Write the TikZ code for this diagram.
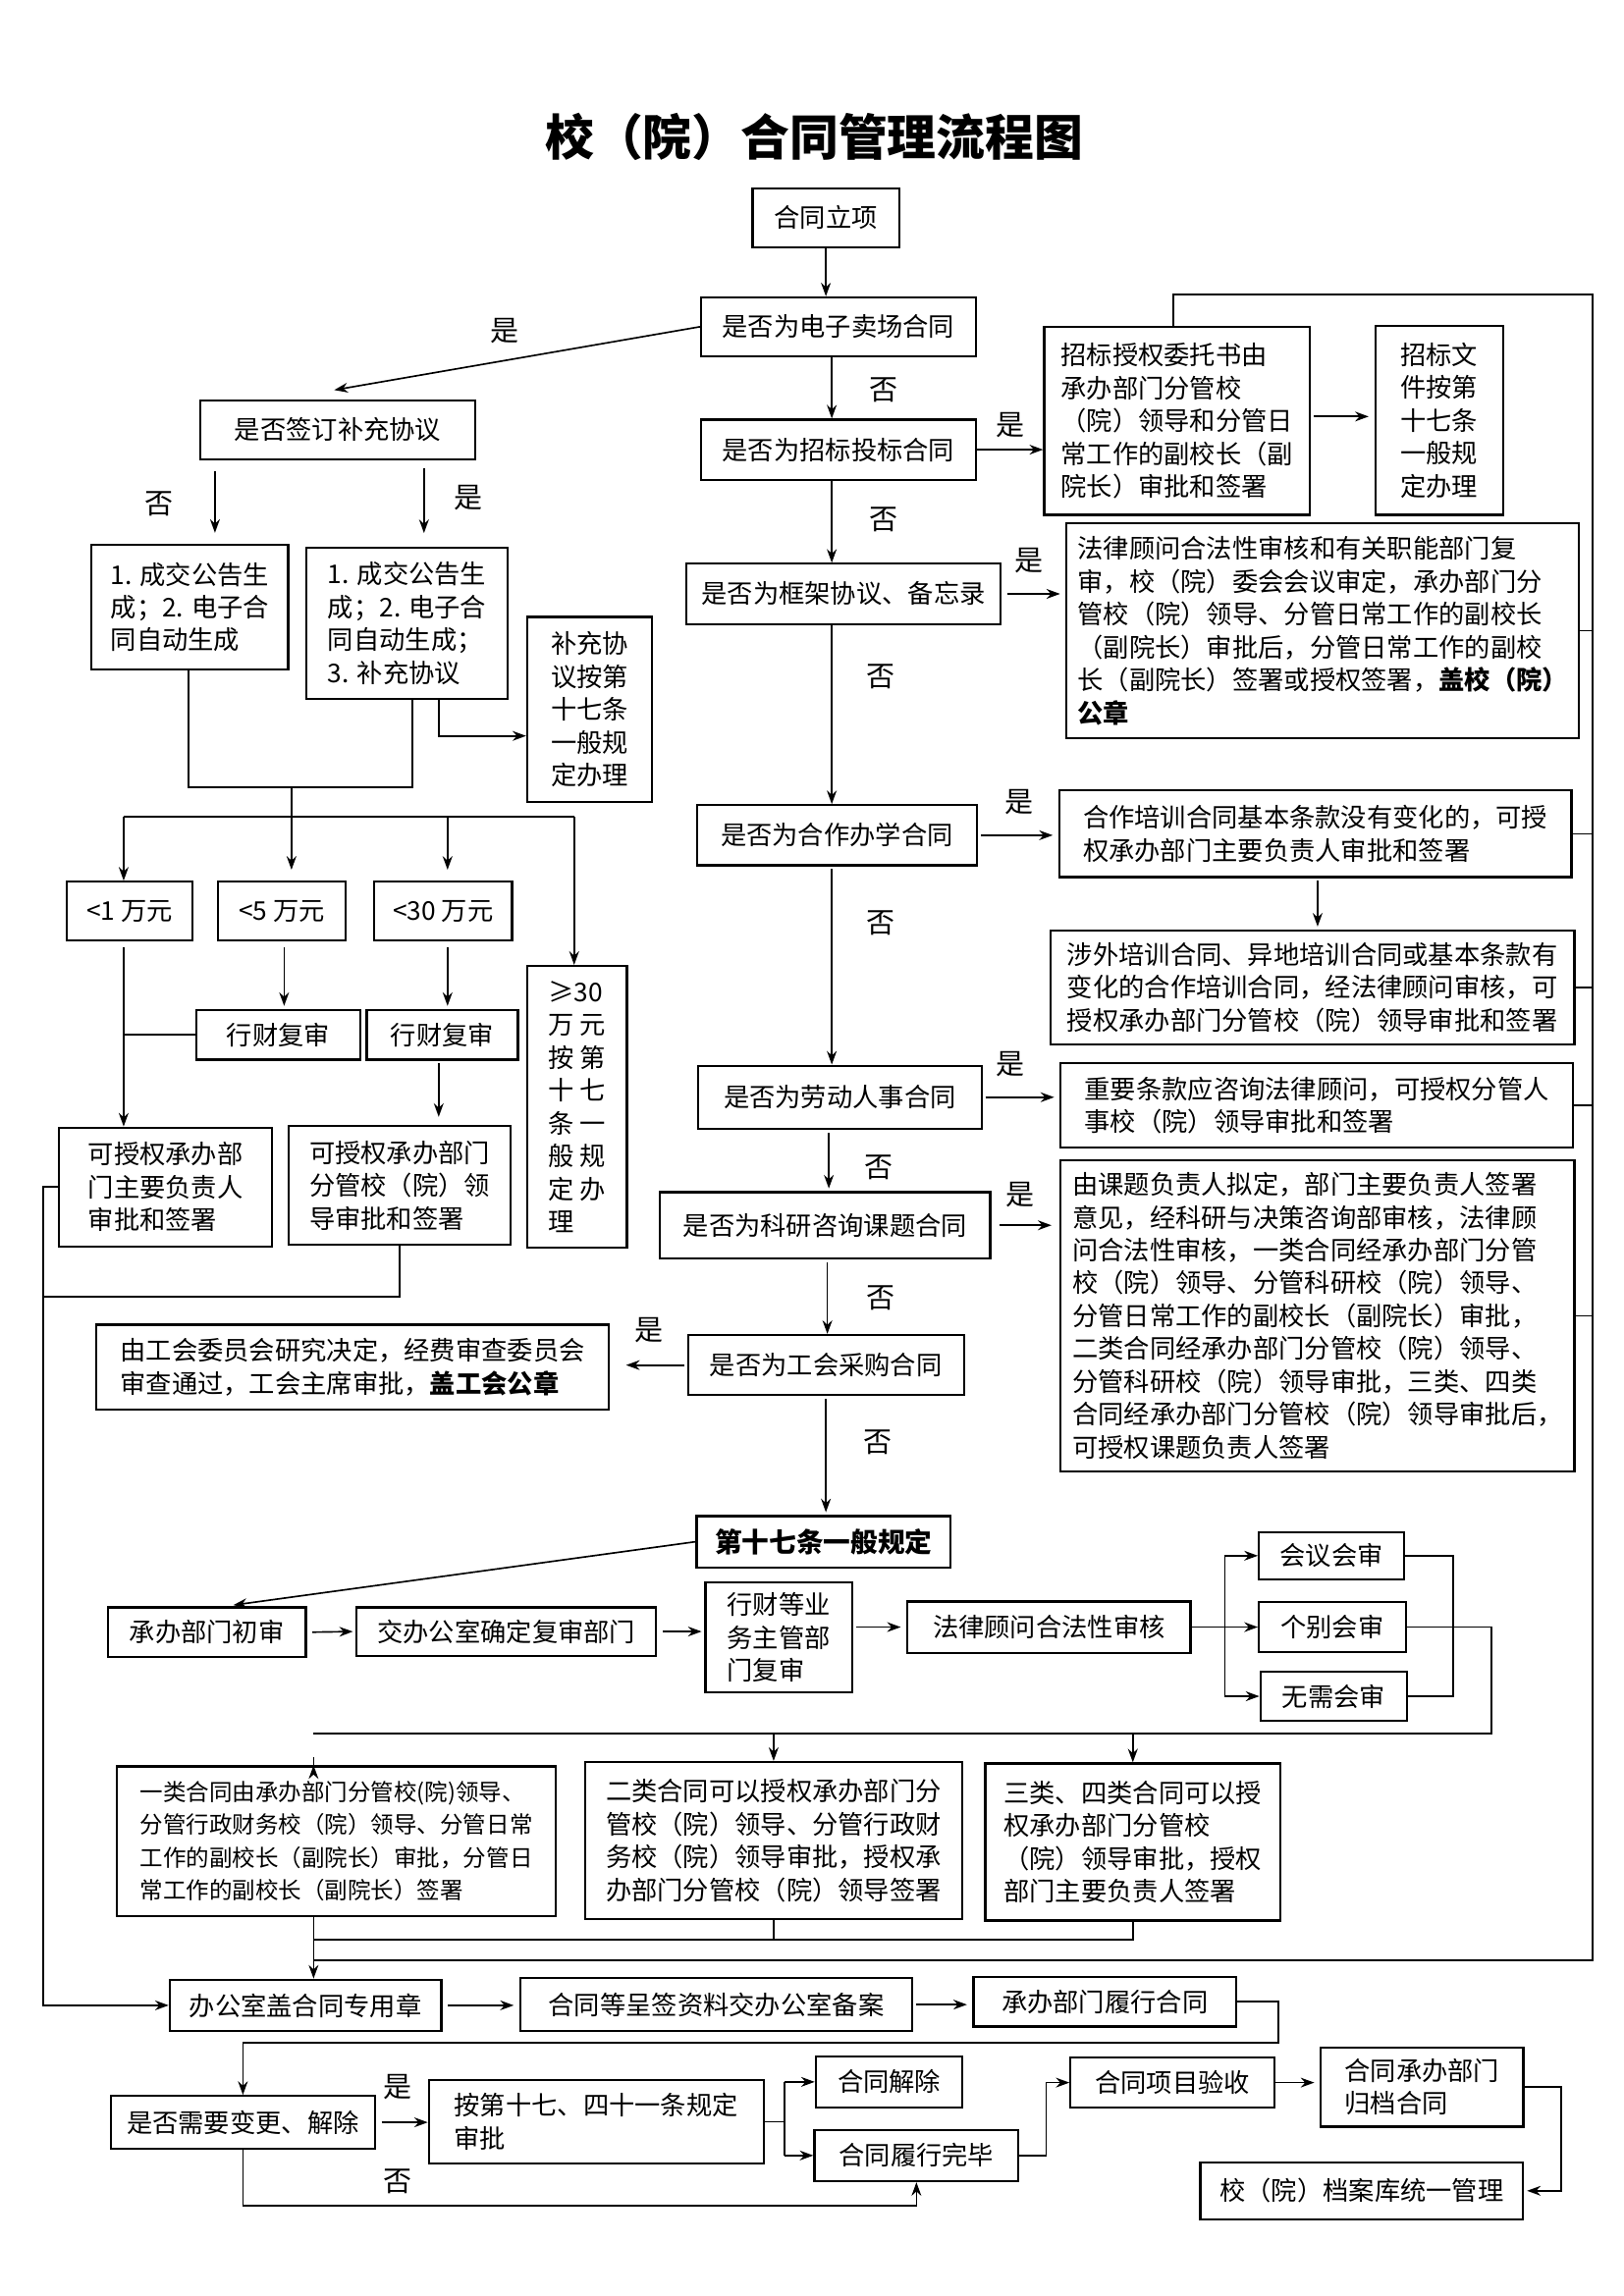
\documentclass[tikz,border=0pt]{standalone}
\usepackage{fontspec}
\setmainfont{Noto Sans CJK SC}
\usetikzlibrary{arrows.meta}

\begin{document}
\begin{tikzpicture}[x=0.019039cm,y=-0.019039cm,line width=0.6pt,>={Stealth[length=5pt,width=3.6pt]},
	box/.style={draw,line width=0.8pt,align=left,inner sep=2pt,font=\fontsize{9.5}{12.1}\selectfont},
	sz/.style 2 args={minimum width=#1*0.5402pt,minimum height=#2*0.5402pt},
	yn/.style={font=\fontsize{10.5}{12}\selectfont}]
		\useasboundingbox (0,0) rectangle (1103,1560);
		\node[font=\fontsize{18}{20}\selectfont\bfseries] (title) at (553,93) {校（院）合同管理流程图};
		\node[box,sz={100}{40}] (n0) at (561,148) {合同立项};
		\node[box,sz={187}{40}] (q1) at (569.5,222) {是否为电子卖场合同};
		\node[box,sz={187}{40}] (s1) at (229.5,292) {是否签订补充协议};
		\node[box,sz={134}{85}] (a1) at (129,412.5) {1. 成交公告生\\成；2. 电子合\\同自动生成};
		\node[box,sz={137}{103}] (a2) at (276.5,423.5) {1. 成交公告生\\成；2. 电子合\\同自动生成；\\3. 补充协议};
		\node[box,sz={85}{126}] (a3) at (400.5,482) {补充协\\议按第\\十七条\\一般规\\定办理};
		\node[box,sz={86}{40}] (m1) at (88,619) {<1 万元};
		\node[box,sz={87}{40}] (m2) at (191.5,619) {<5 万元};
		\node[box,sz={94}{40}] (m3) at (301,619) {<30 万元};
		\node[box,sz={68}{192}] (m4) at (392,752) {≥30\\万 元\\按 第\\十 七\\条 一\\般 规\\定 办\\理};
		\node[box,sz={112}{34}] (r1) at (189,703) {行财复审};
		\node[box,sz={103}{34}] (r2) at (300.5,703) {行财复审};
		\node[box,sz={145}{81}] (c1) at (112.5,806.5) {可授权承办部\\门主要负责人\\审批和签署};
		\node[box,sz={151}{81}] (c2) at (271.5,805.5) {可授权承办部门\\分管校（院）领\\导审批和签署};
		\node[box,sz={187}{41}] (q2) at (569.5,305.5) {是否为招标投标合同};
		\node[box,sz={181}{128}] (b1) at (799.5,286) {招标授权委托书由\\承办部门分管校\\（院）领导和分管日\\常工作的副校长（副\\院长）审批和签署};
		\node[box,sz={87}{129}] (b2) at (977.5,285.5) {招标文\\件按第\\十七条\\一般规\\定办理};
		\node[box,sz={214}{41}] (q3) at (573,403.5) {是否为框架协议、备忘录};
		\node[box,sz={349}{147}] (b3) at (898.5,428.5) {法律顾问合法性审核和有关职能部门复\\审，校（院）委会会议审定，承办部门分\\管校（院）领导、分管日常工作的副校长\\（副院长）审批后，分管日常工作的副校\\长（副院长）签署或授权签署，\textbf{盖校（院）}\\\textbf{公章}};
		\node[box,sz={191}{41}] (q4) at (568.5,567.5) {是否为合作办学合同};
		\node[box,sz={349}{59}] (b4) at (893.5,566.5) {合作培训合同基本条款没有变化的，可授\\权承办部门主要负责人审批和签署};
		\node[box,sz={357}{78}] (b5) at (891.5,671) {涉外培训合同、异地培训合同或基本条款有\\变化的合作培训合同，经法律顾问审核，可\\授权承办部门分管校（院）领导审批和签署};
		\node[box,sz={193}{43}] (q5) at (570.5,745.5) {是否为劳动人事合同};
		\node[box,sz={349}{58}] (b6) at (894.5,751) {重要条款应咨询法律顾问，可授权分管人\\事校（院）领导审批和签署};
		\node[box,sz={225}{45}] (q6) at (560.5,832.5) {是否为科研咨询课题合同};
		\node[box,sz={350}{212}] (b7) at (895,894) {由课题负责人拟定，部门主要负责人签署\\意见，经科研与决策咨询部审核，法律顾\\问合法性审核，一类合同经承办部门分管\\校（院）领导、分管科研校（院）领导、\\分管日常工作的副校长（副院长）审批，\\二类合同经承办部门分管校（院）领导、\\分管科研校（院）领导审批，三类、四类\\合同经承办部门分管校（院）领导审批后，\\可授权课题负责人签署};
		\node[box,sz={188}{41}] (q7) at (561,927.5) {是否为工会采购合同};
		\node[box,sz={349}{58}] (b8) at (239.5,929) {由工会委员会研究决定，经费审查委员会\\审查通过，工会主席审批，\textbf{盖工会公章}};
		\node[box,sz={173}{35},font=\fontsize{10}{12}\selectfont\bfseries] (g0) at (559.5,1047.5) {第十七条一般规定};
		\node[box,sz={135}{34}] (g1) at (140.5,1109) {承办部门初审};
		\node[box,sz={204}{33}] (g2) at (344,1108.5) {交办公室确定复审部门};
		\node[box,sz={100}{75}] (g3) at (529,1112.5) {行财等业\\务主管部\\门复审};
		\node[box,sz={193}{35}] (g4) at (712.5,1105.5) {法律顾问合法性审核};
		\node[box,sz={99}{32}] (h1) at (904.5,1057) {会议会审};
		\node[box,sz={100}{34}] (h2) at (905,1105.5) {个别会审};
		\node[box,sz={100}{33}] (h3) at (906,1152.5) {无需会审};
		\node[box,sz={299}{102},font=\fontsize{8.5}{12.1}\selectfont] (k1) at (228.5,1251) {一类合同由承办部门分管校(院)领导、\\分管行政财务校（院）领导、分管日常\\工作的副校长（副院长）审批，分管日\\常工作的副校长（副院长）签署};
		\node[box,sz={257}{107}] (k2) at (525.5,1250.5) {二类合同可以授权承办部门分\\管校（院）领导、分管行政财\\务校（院）领导审批，授权承\\办部门分管校（院）领导签署};
		\node[box,sz={201}{107}] (k3) at (769.5,1251.5) {三类、四类合同可以授\\权承办部门分管校\\（院）领导审批，授权\\部门主要负责人签署};
		\node[box,sz={185}{35}] (e1) at (207.5,1362.5) {办公室盖合同专用章};
		\node[box,sz={267}{36}] (e2) at (486.5,1362) {合同等呈签资料交办公室备案};
		\node[box,sz={179}{34}] (e3) at (750.5,1360) {承办部门履行合同};
		\node[box,sz={180}{36}] (f1) at (165,1442) {是否需要变更、解除};
		\node[box,sz={228}{57}] (f2) at (405,1441.5) {按第十七、四十一条规定\\审批};
		\node[box,sz={100}{35}] (f3) at (604,1414.5) {合同解除};
		\node[box,sz={139}{35}] (f4) at (622.5,1464.5) {合同履行完毕};
		\node[box,sz={139}{34}] (f5) at (796.5,1415) {合同项目验收};
		\node[box,sz={138}{54}] (f6) at (966,1418) {合同承办部门\\归档合同};
		\node[box,sz={220}{39}] (f7) at (925,1488.5) {校（院）档案库统一管理};
		\coordinate (s1in) at (227,265);
		\coordinate (j1) at (198,535);
		\coordinate (j2) at (198,555);
		\coordinate (rt) at (1082,200);
		\coordinate (rb) at (1082,1332);
		\draw[->] (n0.south) -- (n0.south |- q1.north);
		\draw[->] (q1.west) -- (s1in);
		\draw[->,shorten <=4pt,shorten >=4pt] (s1.south -| 146,0) -- (a1.north -| 146,0);
		\draw[->,shorten <=3pt,shorten >=5pt] (s1.south -| 288,0) -- (a2.north -| 288,0);
		\draw[->] (a2.south -| 298,0) |- (a3.west |- 0,500);
		\draw (a1.south -| 128,0) |- (j1) -| (a2.south -| 280,0);
		\draw (j1) -- (j2);
		\draw (j2 -| m1.north -| 84,0) -- (j2 -| 390,0);
		\draw[->] (j2 -| 84,0) -- (m1.north -| 84,0);
		\draw[->,shorten >=4pt] (j2) -- (m2.north -| j2);
		\draw[->,shorten >=4pt] (j2 -| 304,0) -- (m3.north -| 304,0);
		\draw[->] (j2 -| 390,0) -- (m4.north -| 390,0);
		\draw[->,shorten <=2pt,shorten >=1pt] (m2.south -| 193,0) -- (r1.north -| 193,0);
		\draw[->,shorten <=2pt,shorten >=1pt] (m3.south -| 304,0) -- (r2.north -| 304,0);
		\draw[->,shorten <=2pt] (m1.south -| 84,0) -- (c1.north -| 84,0);
		\draw (r1.west) -- (r1.west -| 84,0);
		\draw[->,shorten <=1pt,shorten >=3pt] (r2.south -| 298,0) -- (c2.north -| 298,0);
		\draw[->] (c1.west) -- ++(-10,0) |- (e1.west);
		\draw (c2.south) |- (30,881);
		\draw[->] (q1.south -| 565,0) -- (q2.north -| 565,0);
		\draw[->] (q2.east) -- (q2.east -| b1.west);
		\draw[->,shorten <=1pt,shorten >=2pt] (b1.east |- 0,283) -- (b2.west |- 0,283);
		\draw (b1.north -| 797,0) |- (rt) -- (rb) -- (rb -| 213,0);
		\draw[->] (q2.south -| 565,0) -- (q3.north -| 565,0);
		\draw[->,shorten <=2pt,shorten >=2pt] (q3.east) -- (q3.east -| b3.west);
		\draw[->] (q3.south -| 565,0) -- (q4.north -| 565,0);
		\draw[->,shorten <=1pt,shorten >=2pt] (q4.east) -- (q4.east -| b4.west);
		\draw[->,shorten <=1pt,shorten >=1pt] (b4.south -| 895,0) -- (b5.north -| 895,0);
		\draw[->,shorten <=1pt] (q4.south -| 565,0) -- (q5.north -| 565,0);
		\draw[->,shorten <=1pt,shorten >=2pt] (q5.east) -- (q5.east -| b6.west);
		\draw[->,shorten <=1pt,shorten >=1pt] (q5.south -| 563,0) -- (q6.north -| 563,0);
		\draw[->,shorten <=3pt,shorten >=3pt] (q6.east) -- (q6.east -| b7.west);
		\draw[->,shorten <=1pt] (q6.south -| 562,0) -- (q7.north -| 562,0);
		\draw[->,shorten <=1pt,shorten >=6pt] (q7.west) -- (q7.west -| b8.east);
		\draw[->,shorten <=1pt,shorten >=1pt] (q7.south -| 561,0) -- (g0.north -| 561,0);
		\foreach \b in {b3,b4,b5,b6,b7}
			\draw (\b.east) -- (\b.east -| rt);
		\draw[->,shorten >=3pt] (g0.west) -- (g1.north -| 153,0);
		\draw[->,shorten <=2pt,shorten >=1pt] (g1.east) -- (g2.west);
		\draw[->,shorten <=2pt,shorten >=1pt] (g2.east) -- (g3.west |- g2.east);
		\draw[->,shorten <=1pt,shorten >=2pt] (g3.east |- g4.east) -- (g4.west);
		\draw[->] (g4.east) -- (h2.west);
		\draw (h1.west -| 832,0) -- (h3.west -| 832,0);
		\draw[->] (h1.west -| 832,0) -- (h1.west);
		\draw[->] (h3.west -| 832,0) -- (h3.west);
		\draw (h1.east) -- (h1.east -| 987,0) |- (h3.east);
		\draw (h2.east) -- (h2.east -| 1013,0) |- (213,1178);
		\draw[->] (k1.north -| 213,0 |- 0,1178) -- (k1.north -| 213,0);
		\draw[->] (k2.north |- 0,1178) -- (k2.north);
		\draw[->] (k3.north |- 0,1178) -- (k3.north);
		\draw[->] (k1.south -| 213,0) -- (e1.north -| 213,0);
		\draw (k3.south) |- (213,1318);
		\draw (k2.south) -- (k2.south |- 0,1318);
		\draw[->,shorten <=2pt,shorten >=2pt] (e1.east) -- (e2.west |- e1.east);
		\draw[->,shorten <=1pt,shorten >=2pt] (e2.east) -- (e3.west |- e2.east);
		\draw[->] (e3.east) -- ++(28,0) |- (f1.north |- 0,1388) -- (f1.north);
		\draw[->,shorten <=2pt] (f1.east) -- (f2.west |- f1.east);
		\draw (f2.east) -- ++(14,0);
		\draw (f3.west -| 533,0) -- (f4.west -| 533,0);
		\draw[->] (f3.west -| 533,0) -- (f3.west);
		\draw[->] (f4.west -| 533,0) -- (f4.west);
		\draw[->] (f1.south) -- ++(0,38) -| (f4.south);
		\draw[->] (f4.east) -- ++(18,0) |- (f5.west);
		\draw[->,shorten >=2pt] (f5.east) -- (f6.west |- f5.east);
		\draw[->,shorten >=1pt] (f6.east) -- ++(25,0) |- (f7.east);
		\node[yn] at (343,225) {是};
		\node[yn] at (108,342) {否};
		\node[yn] at (318,338) {是};
		\node[yn] at (600,265) {否};
		\node[yn] at (686,289) {是};
		\node[yn] at (600,353) {否};
		\node[yn] at (699,381) {是};
		\node[yn] at (598,460) {否};
		\node[yn] at (692,545) {是};
		\node[yn] at (598,627) {否};
		\node[yn] at (686,723) {是};
		\node[yn] at (597,793) {否};
		\node[yn] at (693,812) {是};
		\node[yn] at (598,882) {否};
		\node[yn] at (441,904) {是};
		\node[yn] at (596,980) {否};
		\node[yn] at (270,1418) {是};
		\node[yn] at (270,1482) {否};
\end{tikzpicture}
\end{document}
